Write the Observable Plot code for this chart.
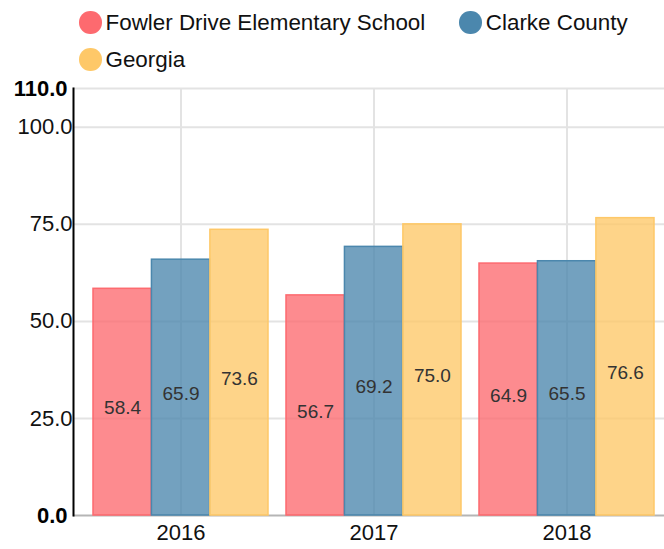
<!DOCTYPE html>
<html>
<head>
<meta charset="utf-8">
<script src="https://cdn.jsdelivr.net/npm/d3@7"></script>
<script src="https://cdn.jsdelivr.net/npm/@observablehq/plot@0.6"></script>
<style>
  html, body { margin: 0; padding: 0; background: #fff; overflow: hidden; width: 664px; height: 549px; }
  body { font-family: "Liberation Sans", Arial, Helvetica, sans-serif; position: relative; }
  #legend { position: absolute; top: 0; left: 0; z-index: 2; box-sizing: border-box; padding: 4px 0 0 79px; width: 664px; }
  .item { display: inline-flex; align-items: center; height: 37px; margin-right: 34px; font-size: 22.4px; color: #111; vertical-align: top; }
  .dot { width: 22.5px; height: 22.5px; border-radius: 50%; margin-right: 4px; display: inline-block; flex: none; }
  #chart { padding-top: 60px; }
</style>
</head>
<body>
<div id="legend"></div>
<div id="chart"></div>
<script>
const years = ["2016", "2017", "2018"];
const series = ["Fowler Drive Elementary School", "Clarke County", "Georgia"];
const fowler = [58.4, 56.7, 64.9];
const clarke = [65.9, 69.2, 65.5];
const georgia = [73.6, 75.0, 76.6];
const colors = ["#fd6a6f", "#4b87ad", "#fec868"];
const normalTicks = [25, 50, 75, 100];
const boldTicks = [0, 110];

const values = [fowler, clarke, georgia];
const rows = series.flatMap((s, i) => years.map((y, j) => ({series: s, idx: i, year: y, value: values[i][j]})));

// legend
const legend = document.getElementById("legend");
series.forEach((s, i) => {
  const item = document.createElement("span");
  item.className = "item";
  const dot = document.createElement("span");
  dot.className = "dot";
  dot.style.background = colors[i];
  item.appendChild(dot);
  item.appendChild(document.createTextNode(s));
  legend.appendChild(item);
});

const W = 664, H = 489, ML = 73, MR = -10, MT = 28, MB = 34;
const pIn = 0.093, pOut = 0.101;
const bw = d3.scaleBand().domain(years).range([ML, W - MR]).paddingInner(pIn).paddingOuter(pOut).bandwidth();
const sub = bw / 3;

const marks = [
  Plot.gridY(normalTicks.concat([110]), {stroke: "#e3e3e3", strokeOpacity: 1, strokeWidth: 2}),
  Plot.gridX(years, {stroke: "#e3e3e3", strokeOpacity: 1, strokeWidth: 2}),
  Plot.ruleY([0], {stroke: "#b5b5b5", strokeWidth: 2}),
];
series.forEach((s, i) => {
  const data = rows.filter(d => d.idx === i);
  marks.push(Plot.barY(data, {
    x: "year", y: "value", fill: colors[i], fillOpacity: 0.78,
    stroke: colors[i], strokeWidth: 1.5,
    insetLeft: i * sub, insetRight: (2 - i) * sub
  }));
});
series.forEach((s, i) => {
  const data = rows.filter(d => d.idx === i);
  marks.push(Plot.text(data, {
    x: "year", y: d => d.value / 2, text: d => d.value.toFixed(1),
    dx: (i - 1) * sub, dy: 6, fill: "#333", fontSize: 19
  }));
});
marks.push(Plot.axisY(normalTicks, {tickSize: 0, tickPadding: 1, tickFormat: d => d.toFixed(1), fontSize: 22, fill: "#111", label: null}));
marks.push(Plot.axisY(boldTicks, {tickSize: 0, tickPadding: 6, tickFormat: d => d.toFixed(1), fontSize: 22, fontWeight: "bold", fill: "#000", label: null}));
marks.push(Plot.axisX({tickSize: 0, tickPadding: 9, fontSize: 22, fill: "#111", label: null}));
marks.push(Plot.frame({anchor: "left", stroke: "#000", strokeWidth: 2}));

const chart = Plot.plot({
  width: W, height: H,
  marginLeft: ML, marginRight: MR, marginTop: MT, marginBottom: MB,
  style: {fontFamily: "'Liberation Sans', Arial, sans-serif", background: "transparent", overflow: "hidden"},
  x: {domain: years, paddingInner: pIn, paddingOuter: pOut},
  y: {domain: [0, 110]},
  marks
});
document.getElementById("chart").appendChild(chart);
</script>
</body>
</html>
